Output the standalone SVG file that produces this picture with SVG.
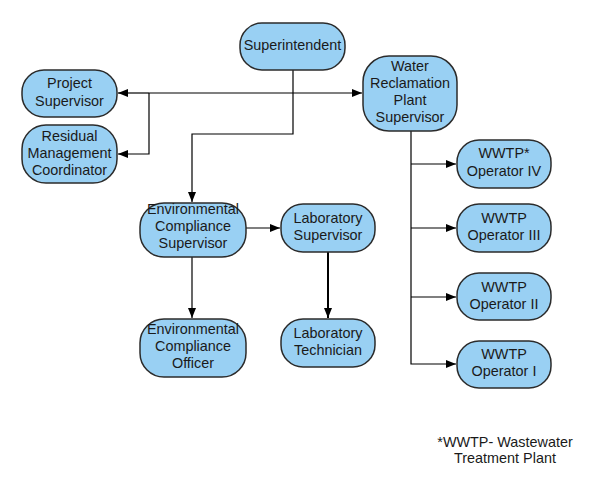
<svg xmlns="http://www.w3.org/2000/svg" width="594" height="485" viewBox="0 0 594 485">
<defs>
<style>
.node rect{fill:#99d0f3;stroke:#2b2b2b;stroke-width:1.5}
.node text,.note{font-family:"Liberation Sans",Arial,sans-serif;font-size:14.4px;fill:#1a1a1a;text-anchor:middle}
.conn path{fill:none;stroke:#000;stroke-width:1.2}
.conn path.thick{stroke-width:2}
</style>
<marker id="arr" markerUnits="userSpaceOnUse" markerWidth="11" markerHeight="9" refX="10" refY="4" orient="auto">
<path d="M0,0 L10,4 L0,8 z" fill="#000"/>
</marker>
</defs>
<rect width="594" height="485" fill="#fff"/>
<g id="connectors" class="conn">
<path d="M293,70 V134 H192 V202" marker-end="url(#arr)"/>
<path d="M149,93 H118" marker-end="url(#arr)"/>
<path d="M149,93 H362" marker-end="url(#arr)"/>
<path d="M149,93 V154 H118" marker-end="url(#arr)"/>
<path d="M411,131 V364 H456" marker-end="url(#arr)"/>
<path d="M411,164 H456" marker-end="url(#arr)"/>
<path d="M411,228 H456" marker-end="url(#arr)"/>
<path d="M411,297 H456" marker-end="url(#arr)"/>
<path d="M246,228 H280" marker-end="url(#arr)"/>
<path d="M192,257 V318" marker-end="url(#arr)"/>
<path class="thick" d="M328,252 V318" marker-end="url(#arr)"/>
</g>
<g id="superintendent" class="node"><rect x="240" y="23" width="105" height="47" rx="22"/><text x="292.5" y="50">Superintendent</text></g>
<g id="project-supervisor" class="node"><rect x="22" y="70" width="95" height="47" rx="22"/><text x="69.5" y="88">Project</text><text x="69.5" y="105.5">Supervisor</text></g>
<g id="residual-coordinator" class="node"><rect x="22" y="125" width="95" height="58" rx="24"/><text x="69.5" y="141">Residual</text><text x="69.5" y="158">Management</text><text x="69.5" y="175">Coordinator</text></g>
<g id="wrp-supervisor" class="node"><rect x="363" y="56" width="94" height="75" rx="26"/><text x="410" y="71">Water</text><text x="410" y="88">Reclamation</text><text x="410" y="105">Plant</text><text x="410" y="122">Supervisor</text></g>
<g id="operator-iv" class="node"><rect x="457" y="140" width="94" height="48" rx="22"/><text x="504" y="158">WWTP*</text><text x="504" y="175.5">Operator IV</text></g>
<g id="operator-iii" class="node"><rect x="457" y="204" width="94" height="48" rx="22"/><text x="504" y="223">WWTP</text><text x="504" y="240">Operator III</text></g>
<g id="operator-ii" class="node"><rect x="457" y="273" width="94" height="47" rx="22"/><text x="504" y="291.5">WWTP</text><text x="504" y="308.5">Operator II</text></g>
<g id="operator-i" class="node"><rect x="457" y="341" width="94" height="47" rx="22"/><text x="504" y="359">WWTP</text><text x="504" y="376">Operator I</text></g>
<g id="env-compliance-supervisor" class="node"><rect x="140" y="203" width="106" height="54" rx="24"/><text x="193" y="214">Environmental</text><text x="193" y="231">Compliance</text><text x="193" y="248">Supervisor</text></g>
<g id="lab-supervisor" class="node"><rect x="281" y="204" width="94" height="48" rx="22"/><text x="328" y="223">Laboratory</text><text x="328" y="240">Supervisor</text></g>
<g id="env-compliance-officer" class="node"><rect x="140" y="319" width="106" height="58" rx="24"/><text x="193" y="334">Environmental</text><text x="193" y="351">Compliance</text><text x="193" y="368">Officer</text></g>
<g id="lab-technician" class="node"><rect x="281" y="319" width="94" height="48" rx="22"/><text x="328" y="338">Laboratory</text><text x="328" y="355">Technician</text></g>
<g id="footnote"><text class="note" x="505" y="447">*WWTP- Wastewater</text><text class="note" x="505" y="463">Treatment Plant</text></g>
</svg>
